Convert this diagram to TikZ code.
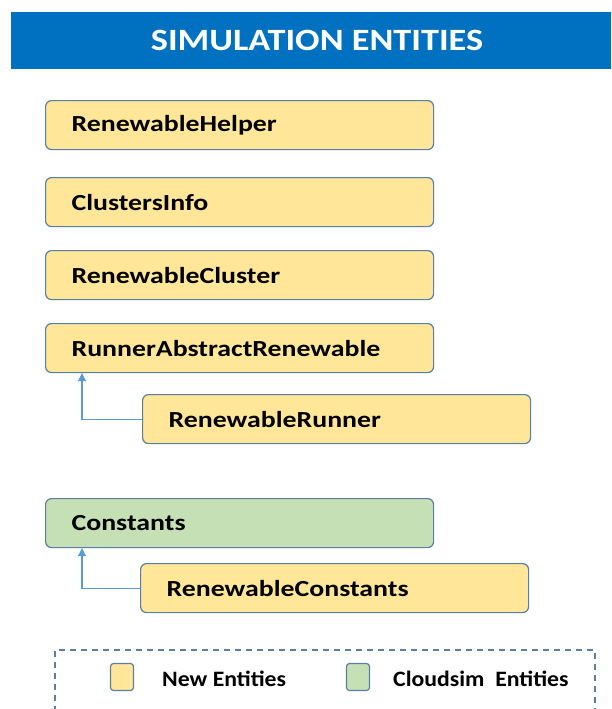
\documentclass[tikz,border=0pt]{standalone}
\usepackage{fontspec}
\setmainfont{Carlito}
\newfontfamily\boxfont[FakeStretch=1.21]{Carlito}
\newfontfamily\titlefont[FakeStretch=1.17]{Carlito}
\newfontfamily\legfont[FakeStretch=1.08]{Carlito}
\usetikzlibrary{arrows.meta}
\definecolor{hdrblue}{HTML}{0070C0}
\definecolor{boxyellow}{HTML}{FFE699}
\definecolor{boxgreen}{HTML}{C5E0B4}
\definecolor{boxedge}{HTML}{5A7FA3}
\definecolor{arrblue}{HTML}{5B9BD5}
\tikzset{
  entity/.style={draw=boxedge, line width=1.2pt, rounded corners=6pt, fill=boxyellow,
    minimum height=49pt, text width=336pt, inner xsep=26pt, align=left,
    anchor=north west, font=\boxfont\fontsize{23}{26}\selectfont\bfseries},
  cloudsim/.style={entity, fill=boxgreen},
  inherit/.style={draw=arrblue, line width=1.1pt, -{Triangle[width=8pt,length=8pt]}},
  legsq/.style={draw=boxedge, line width=1.2pt, rounded corners=3pt, minimum width=23pt, minimum height=27pt, inner sep=0pt},
  legtext/.style={anchor=west, font=\legfont\fontsize{22}{24}\selectfont\bfseries, inner sep=0pt},
}
\begin{document}
\begin{tikzpicture}[x=1pt,y=-1pt]
\useasboundingbox (0,0) rectangle (611,709);
\node[fill=hdrblue, minimum width=600pt, minimum height=57pt, anchor=north west, inner sep=0pt] (title) at (11,12) {};
\node[text=white, inner sep=0pt, font=\titlefont\fontsize{31}{34}\selectfont\bfseries] (titletext) at (317,40) {SIMULATION ENTITIES};
\node[entity] (helper) at (45,100) {RenewableHelper};
\node[entity] (clusters) at (45,177) {ClustersInfo};
\node[entity] (cluster) at (45,250) {RenewableCluster};
\node[entity] (abs) at (45,323) {RunnerAbstractRenewable};
\node[entity] (runner) at (142,394) {RenewableRunner};
\node[cloudsim] (const) at (45,498) {Constants};
\node[entity] (rconst) at (140,563) {RenewableConstants};
\draw[inherit] (runner.west) -| ([xshift=37pt]abs.south west);
\draw[inherit] (rconst.west) -| ([xshift=37pt]const.south west);
\coordinate (lgA) at (55,712);
\coordinate (lgB) at (595,712);
\draw[boxedge, line width=1.2pt, dash pattern=on 6pt off 5pt] (lgA) -- (55,650) -- (595,650) -- (lgB);
\node[legsq, fill=boxyellow] (sqnew) at (122,677) {};
\node[legtext] (txtnew) at (162,679) {New Entities};
\node[legsq, fill=boxgreen] (sqcs) at (358,677) {};
\node[legtext] (txtcs) at (393,679) {Cloudsim\ \ Entities};
\end{tikzpicture}
\end{document}
